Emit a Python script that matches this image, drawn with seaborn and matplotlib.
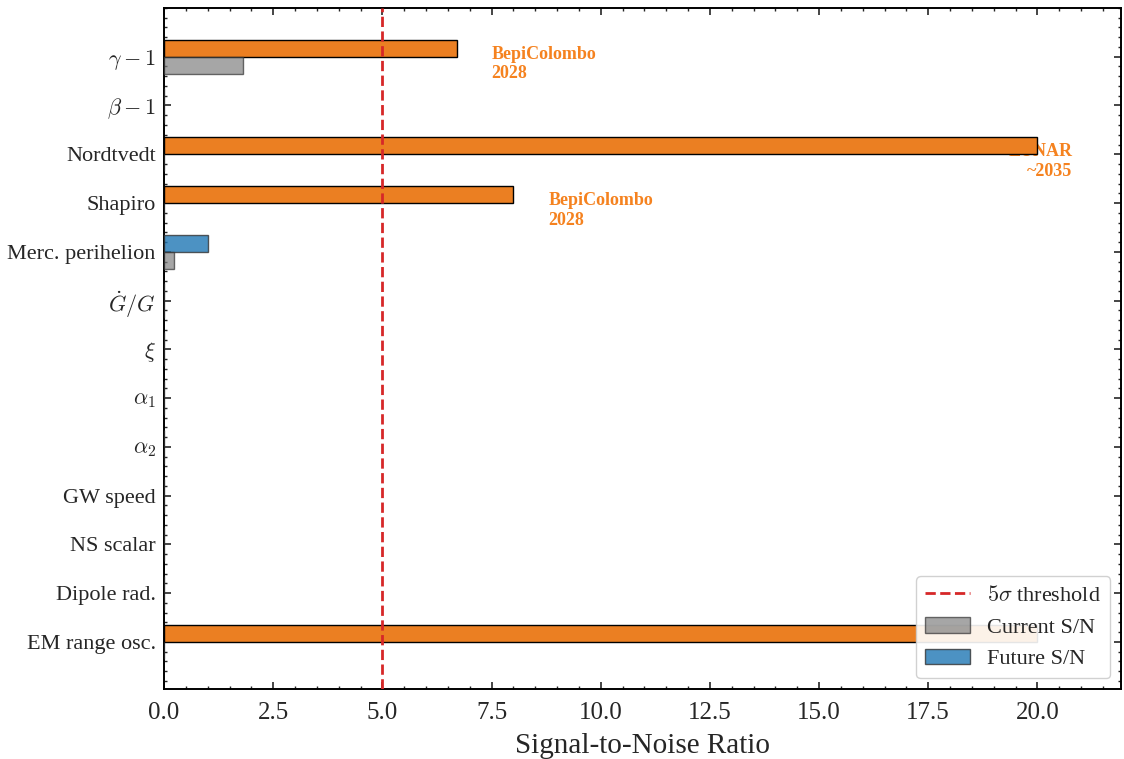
import matplotlib
matplotlib.use("Agg")
import matplotlib.pyplot as plt
from matplotlib.ticker import AutoMinorLocator
from matplotlib.patches import Patch
from matplotlib.lines import Line2D
import seaborn as sns
import pandas as pd

# Data
tests = [r"$\gamma-1$", r"$\beta-1$", "Nordtvedt", "Shapiro", "Merc. perihelion",
         r"$\dot{G}/G$", r"$\xi$", r"$\alpha_1$", r"$\alpha_2$", "GW speed",
         "NS scalar", "Dipole rad.", "EM range osc."]
current_sn = [1.8, 0, 0, 0, 0.22, 0, 0, 0, 0, 0, 0, 0, 0]
future_sn = [6.7, 0, 20.0, 8.0, 1.0, 0, 0, 0, 0, 0, 0, 0, 20.0]
missions = ["BepiColombo\n2028", "", "LUNAR\n~2035", "BepiColombo\n2028", "",
            "", "", "", "", "", "", "", ""]
threshold = 5.0

sns.set_style("white")
plt.rcParams["font.family"] = ["Liberation Serif", "DejaVu Serif"]
plt.rcParams["mathtext.fontset"] = "cm"

df = pd.DataFrame({
    "test": tests * 2,
    "sn": future_sn + current_sn,
    "kind": ["Future S/N"] * len(tests) + ["Current S/N"] * len(tests),
})

fig, ax = plt.subplots(figsize=(11.24, 7.59), dpi=100)
fig.subplots_adjust(left=0.146, right=0.9975, bottom=0.092, top=0.9895)

sns.barplot(data=df, y="test", x="sn", hue="kind", order=tests,
            hue_order=["Future S/N", "Current S/N"],
            palette={"Future S/N": "#1f77b4", "Current S/N": "gray"},
            saturation=1, orient="h", dodge=True, width=0.7, legend=False,
            ax=ax, edgecolor="#333333", linewidth=1.0, zorder=3)

orange = "#eb7f22"
fut_bars, cur_bars = ax.containers[0], ax.containers[1]
for bar in cur_bars:
    bar.set_alpha(0.7)
for i, bar in enumerate(fut_bars):
    if future_sn[i] >= threshold:
        bar.set_facecolor(orange)
        bar.set_edgecolor("black")
        bar.set_alpha(1.0)
    else:
        bar.set_alpha(0.8)

# mission labels
for i, lab in enumerate(missions):
    if not lab:
        continue
    if future_sn[i] >= 15:
        ax.text(future_sn[i] + 0.8, i + 0.15, lab, ha="right", va="center",
                multialignment="right", color="#f5821f", fontsize=13,
                fontweight="bold", zorder=1)
    else:
        ax.text(future_sn[i] + 0.8, i + 0.15, lab, ha="left", va="center",
                color="#f5821f", fontsize=13, fontweight="bold", zorder=1)

ax.axvline(threshold, color="#d62728", linestyle="--", linewidth=2, zorder=4)

ax.set_xlim(0, 21.92)
ax.set_ylim(12.97, -1.0)
ax.set_xlabel("Signal-to-Noise Ratio", fontsize=21, labelpad=7)
ax.set_ylabel("")
ax.xaxis.set_minor_locator(AutoMinorLocator(5))
ax.yaxis.set_minor_locator(AutoMinorLocator(5))
ax.tick_params(which="both", direction="in", top=True, right=True,
               bottom=True, left=True)
ax.tick_params(which="major", length=5, width=1.2)
ax.tick_params(which="minor", length=2.5, width=1.0)
ax.tick_params(axis="x", which="major", labelsize=18, pad=9)
ax.tick_params(axis="y", which="major", labelsize=16, pad=6)
for s in ax.spines.values():
    s.set_linewidth(1.4)
    s.set_color("black")

handles = [
    Line2D([0], [0], color="#d62728", linestyle="--", linewidth=2, label=r"$5\sigma$ threshold"),
    Patch(facecolor="gray", alpha=0.7, edgecolor="#333333", label="Current S/N"),
    Patch(facecolor="#1f77b4", alpha=0.8, edgecolor="#333333", label="Future S/N"),
]
ax.legend(handles=handles, loc="lower right", fontsize=16, framealpha=0.9)

plt.savefig("out.png", dpi=100)
